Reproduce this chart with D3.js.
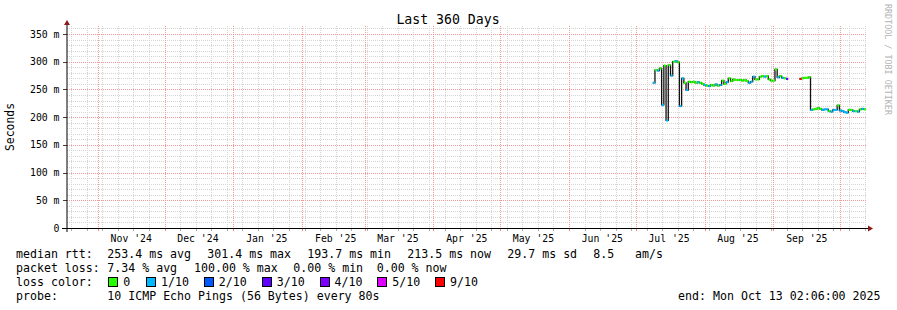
<!DOCTYPE html>
<html><head><meta charset="utf-8">
<script src="https://cdn.jsdelivr.net/npm/d3@7/dist/d3.min.js"></script>
<style>
body{margin:0;background:#fff}
svg{display:block}
text{font-family:"DejaVu Sans Mono",monospace;fill:#000}
</style>
</head><body>
<svg id="c" width="897" height="310"></svg>
<script>
// ---------- data ----------
const title = "Last 360 Days";
const yTitle = "Seconds";
const watermark = "RRDTOOL / TOBI OETIKER";
const endTime = "2025-10-13T02:06:00Z";
const spanDays = 360;
const yTickValues = [0, 50, 100, 150, 200, 250, 300, 350];
const yTickLabels = ["0", "50 m", "100 m", "150 m", "200 m", "250 m", "300 m", "350 m"];
const dataStart = "2025-07-08T16:00:00Z"; // one sample per day
const median = [262,285,284,288,222,293,194,294,275,300,
                301,299,220,270,262,249,264,263,264,262,
                263,262,260,258,257,256,258,257,259,257,
                258,266,260,263,270,265,268,267,267,267,
                266,267,265,262,264,273,268,268,273,274,
                273,274,268,266,266,286,272,274,271,270,
                269,null,null,null,null,null,269,270,271,271,
                272,213,214,215,216,215,213,214,214,211,
                210,213,213,221,212,211,209,208,213,213,
                211,211,210,214,215,214];
const lossCount = [1,0,1,0,1,0,1,0,1,0,
                   1,0,1,1,0,1,0,0,0,0,
                   1,0,0,1,0,1,0,0,1,0,
                   1,0,0,1,0,0,0,0,0,0,
                   0,0,0,1,1,1,0,0,0,0,
                   1,0,0,0,0,0,1,0,1,0,
                   3,null,null,null,null,null,9,0,0,0,
                   0,1,0,0,0,0,1,1,1,0,
                   1,1,1,0,1,1,1,1,0,0,
                   1,0,1,0,1,0];
const lossLevels = [0, 1, 2, 3, 4, 5, 9];
const lossLabels = ["0", "1/10", "2/10", "3/10", "4/10", "5/10", "9/10"];
const lossColors = ["#26ff00", "#00b8ff", "#0059ff", "#5e00ff", "#7e00ff", "#dd00ff", "#ff0000"];
const rttHead = "median rtt:";
const rttStats = ["253.4 ms avg", "301.4 ms max", "193.7 ms min", "213.5 ms now", "29.7 ms sd", "8.5", "am/s"];
const lossHead = "packet loss:";
const lossStats = ["7.34 % avg", "100.00 % max", "0.00 % min", "0.00 % now"];
const colorHead = "loss color:";
const probeHead = "probe:";
const probeText = "10 ICMP Echo Pings (56 Bytes) every 80s";
const endText = "end: Mon Oct 13 02:06:00 2025";

// ---------- layout ----------
const L = 67, R = 867, T = 26, B = 228;
const end = new Date(endTime);
const start = d3.utcDay.offset(end, -spanDays);
const x = d3.scaleUtc().domain([start, end]).range([L, R]);
const y = d3.scaleLinear().domain([0, 350]).range([B, 34]);
const svg = d3.select("#c");
const px = v => Math.round(v) + 0.5;

// ---------- grid ----------
const g = svg.append("g").attr("shape-rendering", "crispEdges");
const minorY = d3.range(10, 361, 10).filter(v => v % 50 !== 0);
const majorY = yTickValues.filter(v => v > 0);
const weeks = d3.utcSunday.range(start, end);
const months = d3.utcMonth.range(start, end);
const minorCol = "#d4d4d4", majorCol = "#f29a9a";

g.selectAll(".hm").data(minorY).join("line")
  .attr("x1", L).attr("x2", R).attr("y1", d => px(y(d))).attr("y2", d => px(y(d)))
  .attr("stroke", minorCol).attr("stroke-dasharray", "1,1");
g.selectAll(".vm").data(weeks).join("line")
  .attr("x1", d => px(x(d))).attr("x2", d => px(x(d))).attr("y1", T).attr("y2", B)
  .attr("stroke", minorCol).attr("stroke-dasharray", "1,1");
g.selectAll(".hM").data(majorY).join("line")
  .attr("x1", L).attr("x2", R).attr("y1", d => px(y(d))).attr("y2", d => px(y(d)))
  .attr("stroke", majorCol).attr("stroke-dasharray", "1,1");
g.selectAll(".vM").data(months).join("line")
  .attr("x1", d => px(x(d))).attr("x2", d => px(x(d))).attr("y1", T).attr("y2", B)
  .attr("stroke", majorCol).attr("stroke-dasharray", "1,1");

// x ticks
g.selectAll(".tw").data(weeks).join("line")
  .attr("x1", d => px(x(d))).attr("x2", d => px(x(d))).attr("y1", B).attr("y2", B + 3)
  .attr("stroke", "#b0b0b0");
g.selectAll(".tM").data(months).join("line")
  .attr("x1", d => px(x(d))).attr("x2", d => px(x(d))).attr("y1", B).attr("y2", B + 3)
  .attr("stroke", "#ff8080");
// y ticks
g.selectAll(".ty").data(yTickValues).join("line")
  .attr("x1", L - 4).attr("x2", L).attr("y1", d => px(y(d))).attr("y2", d => px(y(d)))
  .attr("stroke", "#404040");

// ---------- data ----------
const days = median.map((v, i) => d3.utcDay.offset(new Date(dataStart), i));
const pts = median.map((v, i) => ({t: days[i], v, l: lossCount[i]}));
const stepPts = pts.concat([{t: d3.utcDay.offset(days[days.length - 1], 1), v: median[median.length - 1], l: 0}]);
const stepLine = d3.line()
  .defined(d => d.v !== null)
  .x(d => x(d.t)).y(d => y(d.v))
  .curve(d3.curveStepAfter);
svg.append("path").datum(stepPts).attr("d", stepLine)
  .attr("fill", "none").attr("stroke", "#111").attr("stroke-width", 1.3);
svg.append("g").selectAll("line").data(pts.filter(d => d.v !== null)).join("line")
  .attr("x1", d => x(d.t)).attr("x2", d => x(d3.utcDay.offset(d.t, 1)))
  .attr("y1", d => y(d.v)).attr("y2", d => y(d.v))
  .attr("stroke", d => lossColors[Math.max(0, lossLevels.indexOf(d.l))])
  .attr("stroke-width", 2.2);

// ---------- axes ----------
svg.append("line").attr("x1", L).attr("x2", L).attr("y1", B + 4).attr("y2", T - 3)
  .attr("stroke", "#000").attr("stroke-width", 1);
svg.append("line").attr("x1", L - 5).attr("x2", R + 2).attr("y1", B + 0.5).attr("y2", B + 0.5)
  .attr("stroke", "#000").attr("stroke-width", 1);
svg.append("path").attr("d", `M${L - 3},${T - 1}L${L},${T - 6}L${L + 3},${T - 1}Z`).attr("fill", "#8b1a1a");
svg.append("path").attr("d", `M${R + 1},${B - 2.5}L${R + 6},${B + 0.5}L${R + 1},${B + 3.5}Z`).attr("fill", "#8b1a1a");

const axisFont = "9.8px";
svg.append("g").selectAll("text").data(yTickValues).join("text")
  .attr("x", 59.5).attr("y", d => y(d) + 3.6).attr("text-anchor", "end")
  .style("font-size", axisFont).text((d, i) => yTickLabels[i]);
const monthLabels = d3.utcMonth.range(d3.utcMonth.floor(start), end)
  .map(m => d3.utcDay.offset(m, 15)).filter(d => d > start && d < end);
svg.append("g").selectAll("text").data(monthLabels).join("text")
  .attr("x", d => x(d)).attr("y", 241.5).attr("text-anchor", "middle")
  .style("font-size", axisFont).text(d => d3.utcFormat("%b '%y")(d));

// ---------- titles ----------
svg.append("text").attr("x", 448).attr("y", 24).attr("text-anchor", "middle")
  .style("font-size", "13.2px").text(title);
svg.append("text").attr("transform", "translate(14,127) rotate(-90)").attr("text-anchor", "middle")
  .style("font-size", "11.4px").text(yTitle);
svg.append("text").attr("transform", "translate(885,4) rotate(90)")
  .style("font-size", "8.4px").style("fill", "#b4b4b4").text(watermark);

// ---------- legend ----------
const lf = "11.6px";
const row = [258.3, 272.3, 286.3, 300.3];
function t(xp, yp, s) { svg.append("text").attr("x", xp).attr("y", yp).style("font-size", lf).style("white-space", "pre").text(s); }
t(16, row[0], rttHead);
[107.3, 207.3, 307.3, 407.3, 507.3, 593.3, 635].forEach((xp, i) => t(xp, row[0], rttStats[i]));
t(16, row[1], lossHead);
[107.3, 194, 293.3, 376.7].forEach((xp, i) => t(xp, row[1], lossStats[i]));
t(16, row[2], colorHead);
const boxX = [108.3, 146, 203.7, 261.7, 319.5, 377.3, 435];
boxX.forEach((bx, i) => {
  svg.append("rect").attr("x", Math.round(bx) + 0.5).attr("y", 277.5).attr("width", 9).attr("height", 9)
    .attr("fill", lossColors[i]).attr("stroke", "#000").attr("shape-rendering", "crispEdges");
  t(bx + 15, row[2], lossLabels[i]);
});
t(16, row[3], probeHead);
t(107.3, row[3], probeText);
svg.append("text").attr("x", 880.5).attr("y", row[3]).attr("text-anchor", "end")
  .style("font-size", lf).text(endText);
</script>
</body></html>
